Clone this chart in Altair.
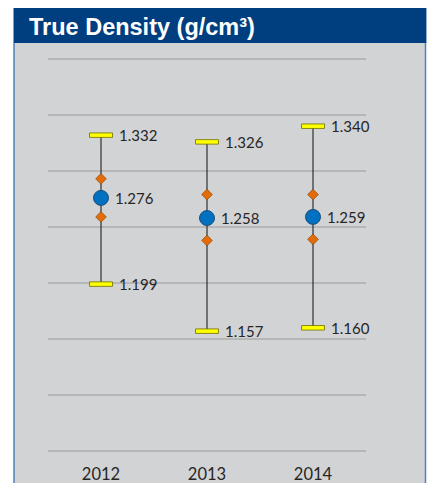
import altair as alt
import pandas as pd

years = ["2012", "2013", "2014"]
mins = [1.199, 1.157, 1.160]
maxs = [1.332, 1.326, 1.340]
means = [1.276, 1.258, 1.259]
upper = [1.293, 1.279, 1.279]
lower = [1.259, 1.238, 1.239]
grid_values = [1.05, 1.10, 1.15, 1.20, 1.25, 1.30, 1.35, 1.40]
title_text = "True Density (g/cm³)"

df = pd.DataFrame({"year": years, "min": mins, "max": maxs, "mean": means})
df["min_lbl"] = [f"{v:.3f}" for v in mins]
df["max_lbl"] = [f"{v:.3f}" for v in maxs]
df["mean_lbl"] = [f"{v:.3f}" for v in means]
dia = pd.DataFrame({"year": years * 2, "v": upper + lower})
grid = pd.DataFrame({"g": grid_values})
one = pd.DataFrame({"t": [title_text]})

yscale = alt.Scale(domain=[1.05, 1.40], nice=False, zero=False)
xenc = alt.X("year:N", scale=alt.Scale(paddingInner=0, paddingOuter=0),
             axis=alt.Axis(title=None, labelAngle=0, ticks=False, domain=False, grid=False,
                           labelFont="Lato", labelFontSize=16.5, labelColor="#262626",
                           labelPadding=15.5, zindex=1))

panel = alt.Chart(one).mark_rect(fill="#d2d3d5", stroke="#4f81bd", strokeWidth=1.5).encode(
    x=alt.value(-34), x2=alt.value(377.5), y=alt.value(-51), y2=alt.value(440))
bar = alt.Chart(one).mark_rect(fill="#003f7f").encode(
    x=alt.value(-34), x2=alt.value(378.3), y=alt.value(-51), y2=alt.value(-16))
title = alt.Chart(one).mark_text(font="Liberation Sans", fontWeight="bold", fontSize=23.5,
                                 color="white", align="left", baseline="alphabetic").encode(
    text="t:N", x=alt.value(-19), y=alt.value(-24))

gridl = alt.Chart(grid).mark_rule(color="#9a9a9a", strokeWidth=1).encode(
    y=alt.Y("g:Q", scale=yscale, axis=None))

base = alt.Chart(df).encode(x=xenc)
whisk = base.mark_rule(color="#111111", strokeWidth=1).encode(
    y=alt.Y("min:Q", scale=yscale, axis=None), y2="max:Q")
cap_lo = base.mark_tick(color="#ffff00", stroke="#6e6e00", strokeWidth=0.8, size=23, thickness=4.5,
                        opacity=1).encode(y=alt.Y("min:Q", scale=yscale, axis=None))
cap_hi = base.mark_tick(color="#ffff00", stroke="#6e6e00", strokeWidth=0.8, size=23, thickness=4.5,
                        opacity=1).encode(y=alt.Y("max:Q", scale=yscale, axis=None))
diamonds = alt.Chart(dia).mark_point(shape="diamond", filled=True, size=115, fill="#e36c09",
                                     stroke="#7f3f00", strokeWidth=0.6, opacity=1).encode(
    x=xenc, y=alt.Y("v:Q", scale=yscale, axis=None))
circ = base.mark_circle(size=225, fill="#0070c0", stroke="#1f4e79", strokeWidth=1, opacity=1).encode(
    y=alt.Y("mean:Q", scale=yscale, axis=None))

tstyle = dict(font="Lato", fontSize=15, color="#262626", align="left", baseline="middle", dy=1)
t_lo = base.mark_text(dx=18, **tstyle).encode(y=alt.Y("min:Q", scale=yscale, axis=None), text="min_lbl:N")
t_hi = base.mark_text(dx=18, **tstyle).encode(y=alt.Y("max:Q", scale=yscale, axis=None), text="max_lbl:N")
t_mean = base.mark_text(dx=14, **tstyle).encode(y=alt.Y("mean:Q", scale=yscale, axis=None), text="mean_lbl:N")

chart = alt.layer(panel, bar, title, gridl, whisk, cap_lo, cap_hi, diamonds, circ, t_lo, t_hi, t_mean).properties(
    width=318, height=392, autosize="none",
    padding={"left": 40, "top": 51, "right": 61, "bottom": 32},
).configure_view(stroke=None)

chart.save("out.html", embed_options={"renderer": "svg", "actions": False})
